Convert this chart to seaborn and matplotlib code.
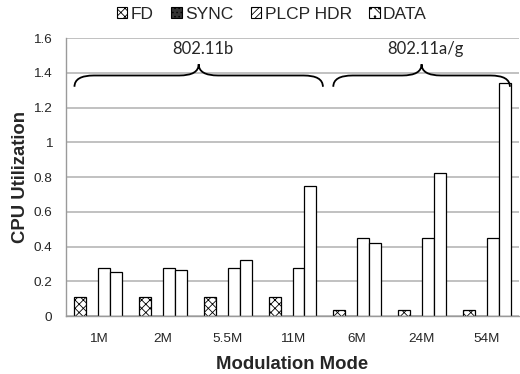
import matplotlib
matplotlib.use("Agg")
import matplotlib.pyplot as plt
import seaborn as sns
import pandas as pd
import numpy as np
from matplotlib.path import Path
from matplotlib.patches import PathPatch, Patch

modes = ["1M", "2M", "5.5M", "11M", "6M", "24M", "54M"]
parts = ["FD", "SYNC", "PLCP HDR", "DATA"]
fd = [0.11, 0.11, 0.11, 0.11, 0.033, 0.033, 0.033]
sync = [0, 0, 0, 0, 0, 0, 0]
plcp = [0.276, 0.276, 0.276, 0.276, 0.447, 0.447, 0.447]
data = [0.255, 0.267, 0.322, 0.75, 0.42, 0.823, 1.339]
groups = ["802.11b", "802.11a/g"]
group_start = [0, 4]
group_end = [3, 6]

rows = []
for name, vals in zip(parts, [fd, sync, plcp, data]):
    for m, v in zip(modes, vals):
        rows.append({"mode": m, "part": name, "cpu": v})
df = pd.DataFrame(rows)

sns.set_style("white")
plt.rcParams["font.family"] = ["Liberation Sans", "DejaVu Sans"]
plt.rcParams["hatch.linewidth"] = 0.6

fig = plt.figure(figsize=(5.2, 3.74), dpi=100)
ax = fig.add_axes([0.127, 0.155, 0.871, 0.743])

sns.barplot(data=df, x="mode", y="cpu", hue="part", order=modes, hue_order=parts,
            palette=["white"] * 4, edgecolor="black", linewidth=0.9, width=0.74,
            legend=False, ax=ax, saturation=1)
for bar in ax.containers[0]:
    bar.set_hatch("xxxx")

ax.set_ylim(0, 1.6)
ax.set_xlim(-0.5, 6.5)
yt = np.arange(0, 1.61, 0.2)
ax.set_yticks(yt)
ax.set_yticklabels(["%g" % round(v, 1) for v in yt], fontsize=9.7)
ax.set_xticks(range(len(modes)))
ax.set_xticklabels(modes, fontsize=9.7)
ax.set_xticks(np.arange(-0.5, 6.6, 1), minor=True)
ax.tick_params(axis="x", which="major", length=0, pad=12)
ax.tick_params(axis="x", which="minor", length=4, color="#9a9a9a", direction="out", width=0.8)
ax.tick_params(axis="y", length=4, color="#9a9a9a", direction="out", width=0.8, pad=6)
ax.grid(axis="y", color="#bcbcbc", linewidth=1.3)
ax.set_axisbelow(True)
for s in ["top", "right"]:
    ax.spines[s].set_visible(False)
for s in ["left", "bottom"]:
    ax.spines[s].set_color("#9a9a9a")
    ax.spines[s].set_linewidth(1.0)

ax.set_xlabel("Modulation Mode", fontsize=13.3, fontweight="bold", labelpad=8)
ax.set_ylabel("CPU Utilization", fontsize=13.3, fontweight="bold", labelpad=3)


def brace(ax, x0, x1, y, d, r):
    xm = (x0 + x1) / 2
    verts = [
        (x0, y - d), (x0, y), (x0 + r, y),
        (xm - r, y), (xm, y), (xm, y + d),
        (xm, y), (xm + r, y),
        (x1 - r, y), (x1, y), (x1, y - d),
    ]
    codes = [Path.MOVETO, Path.CURVE3, Path.CURVE3,
             Path.LINETO, Path.CURVE3, Path.CURVE3,
             Path.CURVE3, Path.CURVE3,
             Path.LINETO, Path.CURVE3, Path.CURVE3]
    ax.add_patch(PathPatch(Path(verts, codes), facecolor="none",
                           edgecolor="black", linewidth=1.3, clip_on=False))
    return xm


for g, s, e in zip(groups, group_start, group_end):
    x0 = s - 0.37
    x1 = e + 0.47 if e < len(modes) - 1 else e + 0.36
    xm = brace(ax, x0, x1, 1.385, 0.065, 0.3)
    ax.text(xm + 0.06, 1.54, g, ha="center", va="center", fontsize=12,
            family=["Lato", "DejaVu Sans"])

handles = [
    Patch(facecolor="white", edgecolor="black", hatch="xxxx", linewidth=0.8),
    Patch(facecolor="#333333", edgecolor="black", hatch="....", linewidth=0.8),
    Patch(facecolor="white", edgecolor="black", hatch="/////", linewidth=0.8),
    Patch(facecolor="white", edgecolor="black", hatch="\\\\..", linewidth=0.8),
]
fig.legend(handles, parts, loc="center", bbox_to_anchor=(0.523, 0.961), ncol=4,
           frameon=False, fontsize=12.5, handlelength=0.6, handleheight=0.6,
           handletextpad=0.2, columnspacing=1.0, borderpad=0)

fig.savefig("out.png", dpi=100)
